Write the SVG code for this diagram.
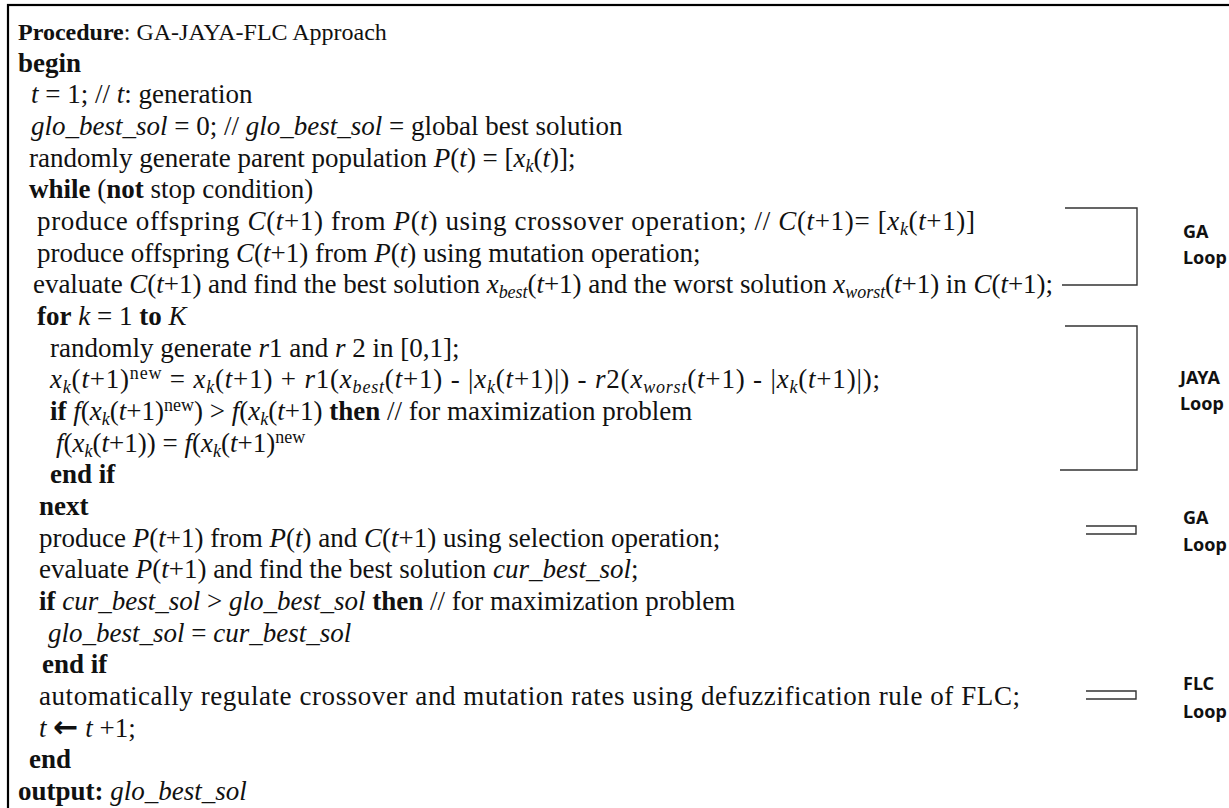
<svg xmlns="http://www.w3.org/2000/svg" width="1229" height="808" viewBox="0 0 1229 808">
<style>
.t{font-family:"Liberation Serif","Times New Roman",serif;font-size:27px;fill:#111}
.b{font-weight:bold}
.i{font-style:italic}
.sub{font-size:18px;baseline-shift:-5px}
.sup{font-size:18px;baseline-shift:9px}
.ar{font-family:"DejaVu Sans",sans-serif;font-weight:bold;font-size:30px}
.lab{font-family:"Noto Sans","Open Sans",sans-serif;font-weight:bold;font-size:18px;fill:#111}
.br{fill:none;stroke:#333;stroke-width:1.4}
</style>
<rect x="8" y="5" width="1240" height="820" fill="#fff" stroke="#000" stroke-width="2.2"/>
<g id="code" class="t">
<text x="18" y="40" style="font-size:24px"><tspan class="b">Procedure</tspan>: GA-JAYA-FLC Approach</text>
<text x="18" y="71.7" class="b">begin</text>
<text x="31" y="103.3"><tspan class="i">t</tspan> = 1; // <tspan class="i">t</tspan>: generation</text>
<text x="31" y="135"><tspan class="i">glo_best_sol</tspan> = 0; // <tspan class="i">glo_best_sol</tspan> = global best solution</text>
<text x="29" y="166.7">randomly generate parent population <tspan class="i">P</tspan>(<tspan class="i">t</tspan>) = [<tspan class="i">x</tspan><tspan class="i sub">k</tspan>(<tspan class="i">t</tspan>)];</text>
<text x="29" y="198.3"><tspan class="b">while</tspan> (<tspan class="b">not</tspan> stop condition)</text>
<text x="37" y="230" textLength="938">produce offspring <tspan class="i">C</tspan>(<tspan class="i">t</tspan>+1) from <tspan class="i">P</tspan>(<tspan class="i">t</tspan>) using crossover operation; // <tspan class="i">C</tspan>(<tspan class="i">t</tspan>+1)= [<tspan class="i">x</tspan><tspan class="i sub">k</tspan>(<tspan class="i">t</tspan>+1)]</text>
<text x="37" y="261.7">produce offspring <tspan class="i">C</tspan>(<tspan class="i">t</tspan>+1) from <tspan class="i">P</tspan>(<tspan class="i">t</tspan>) using mutation operation;</text>
<text x="33" y="293.3" textLength="1020">evaluate <tspan class="i">C</tspan>(<tspan class="i">t</tspan>+1) and find the best solution <tspan class="i">x</tspan><tspan class="i sub">best</tspan>(<tspan class="i">t</tspan>+1) and the worst solution <tspan class="i">x</tspan><tspan class="i sub">worst</tspan>(<tspan class="i">t</tspan>+1) in <tspan class="i">C</tspan>(<tspan class="i">t</tspan>+1);</text>
<text x="37" y="325"><tspan class="b">for</tspan> <tspan class="i">k</tspan> = 1 <tspan class="b">to</tspan> <tspan class="i">K</tspan></text>
<text x="50" y="356.7">randomly generate <tspan class="i">r</tspan>1 and <tspan class="i">r</tspan> 2 in [0,1];</text>
<text x="50" y="388.3" textLength="830"><tspan class="i">x</tspan><tspan class="i sub">k</tspan>(<tspan class="i">t</tspan>+1)<tspan class="sup">new</tspan> = <tspan class="i">x</tspan><tspan class="i sub">k</tspan>(<tspan class="i">t</tspan>+1) + <tspan class="i">r</tspan>1(<tspan class="i">x</tspan><tspan class="i sub">best</tspan>(<tspan class="i">t</tspan>+1) - |<tspan class="i">x</tspan><tspan class="i sub">k</tspan>(<tspan class="i">t</tspan>+1)|) - <tspan class="i">r</tspan>2(<tspan class="i">x</tspan><tspan class="i sub">worst</tspan>(<tspan class="i">t</tspan>+1) - |<tspan class="i">x</tspan><tspan class="i sub">k</tspan>(<tspan class="i">t</tspan>+1)|);</text>
<text x="50" y="420"><tspan class="b">if</tspan> <tspan class="i">f</tspan>(<tspan class="i">x</tspan><tspan class="i sub">k</tspan>(<tspan class="i">t</tspan>+1)<tspan class="sup">new</tspan>) &gt; <tspan class="i">f</tspan>(<tspan class="i">x</tspan><tspan class="i sub">k</tspan>(<tspan class="i">t</tspan>+1) <tspan class="b">then</tspan> // for maximization problem</text>
<text x="56" y="451.7"><tspan class="i">f</tspan>(<tspan class="i">x</tspan><tspan class="i sub">k</tspan>(<tspan class="i">t</tspan>+1)) = <tspan class="i">f</tspan>(<tspan class="i">x</tspan><tspan class="i sub">k</tspan>(<tspan class="i">t</tspan>+1)<tspan class="sup">new</tspan></text>
<text x="50" y="483.3" class="b">end if</text>
<text x="39" y="515" class="b">next</text>
<text x="39" y="546.7">produce <tspan class="i">P</tspan>(<tspan class="i">t</tspan>+1) from <tspan class="i">P</tspan>(<tspan class="i">t</tspan>) and <tspan class="i">C</tspan>(<tspan class="i">t</tspan>+1) using selection operation;</text>
<text x="39" y="578.3">evaluate <tspan class="i">P</tspan>(<tspan class="i">t</tspan>+1) and find the best solution <tspan class="i">cur_best_sol</tspan>;</text>
<text x="39" y="610"><tspan class="b">if</tspan> <tspan class="i">cur_best_sol</tspan> &gt; <tspan class="i">glo_best_sol</tspan> <tspan class="b">then</tspan> // for maximization problem</text>
<text x="48" y="641.7"><tspan class="i">glo_best_sol</tspan> = <tspan class="i">cur_best_sol</tspan></text>
<text x="42" y="673.3" class="b">end if</text>
<text x="39" y="705" textLength="981">automatically regulate crossover and mutation rates using defuzzification rule of FLC;</text>
<text x="39" y="736.7"><tspan class="i">t</tspan> <tspan class="ar">←</tspan> <tspan class="i">t</tspan> +1;</text>
<text x="29" y="768.3" class="b">end</text>
<text x="18" y="800"><tspan class="b">output:</tspan> <tspan class="i">glo_best_sol</tspan></text>
</g>
<g id="connectors">
<polyline class="br" points="1065,208 1137,208 1137,285 1062,285"/>
<polyline class="br" points="1065,326 1137,326 1137,470 1060,470"/>
<polyline class="br" points="1086,526 1136,526 1136,534 1086,534"/>
<polyline class="br" points="1086,691 1136,691 1136,699 1086,699"/>
</g>
<g id="ga-loop-1" class="lab"><text x="1183" y="238">GA</text><text x="1183" y="264">Loop</text></g>
<g id="jaya-loop" class="lab"><text x="1180" y="384">JAYA</text><text x="1180" y="410">Loop</text></g>
<g id="ga-loop-2" class="lab"><text x="1183" y="524">GA</text><text x="1183" y="551">Loop</text></g>
<g id="flc-loop" class="lab"><text x="1183" y="690">FLC</text><text x="1183" y="718">Loop</text></g>
</svg>
